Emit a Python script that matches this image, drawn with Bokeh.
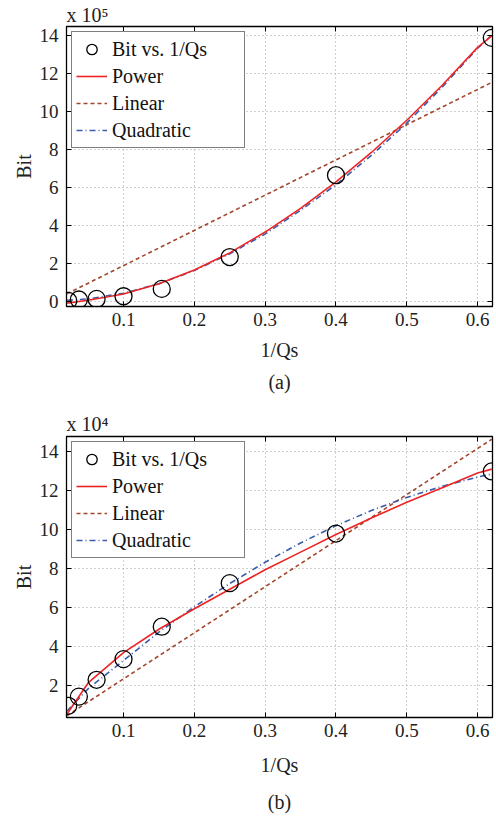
from bokeh.plotting import figure
from bokeh.layouts import column
from bokeh.models import (Range1d, LinearAxis, FixedTicker, Legend, LegendItem,
                          Title)
from bokeh.embed import file_html
from bokeh.resources import INLINE

FONT = "Liberation Serif"

# ---------------- data (a): Bit in units of 1e5 ----------------
qs_inv = [0.022, 0.037, 0.062, 0.100, 0.154, 0.250, 0.400, 0.620]
bit_a = [0.02, 0.09, 0.12, 0.26, 0.65, 2.33, 6.65, 13.9]
fit_x = [0.02, 0.05, 0.10, 0.15, 0.20, 0.25, 0.30, 0.35, 0.40, 0.45, 0.50, 0.55, 0.60, 0.62]
power_a = [-0.10, 0.05, 0.38, 0.92, 1.65, 2.55, 3.65, 4.90, 6.30, 7.85, 9.55, 11.40, 13.40, 14.00]
quad_a = [0.05, 0.12, 0.42, 0.92, 1.62, 2.50, 3.55, 4.80, 6.15, 7.70, 9.40, 11.30, 13.35, 14.05]
lin_x = [0.02, 0.62]
linear_a = [0.39, 11.55]

# ---------------- data (b): Bit in units of 1e4 ----------------
bit_b = [0.98, 1.45, 2.31, 3.37, 5.03, 7.26, 9.80, 12.98]
power_b = [0.55, 2.15, 3.70, 4.90, 5.95, 6.95, 7.95, 8.85, 9.75, 10.60, 11.40, 12.15, 12.90, 13.10]
quad_b = [0.70, 1.85, 3.30, 4.75, 6.05, 7.24, 8.33, 9.32, 10.20, 10.98, 11.65, 12.22, 12.69, 12.85]
linear_b = [0.47, 14.63]

x_ticks = [0.1, 0.2, 0.3, 0.4, 0.5, 0.6]
y_ticks_a = [0, 2, 4, 6, 8, 10, 12, 14]
y_ticks_b = [2, 4, 6, 8, 10, 12, 14]

RED = "#ee2424"
BROWN = "#a3472b"
BLUE = "#3b5cab"


def make_panel(bits, power, quad, linear, yr, yticks, scale_text, caption,
               height, top, bottom, xlab_standoff, cap_standoff, title_standoff):
    p = figure(width=496, height=height, output_backend="svg",
               toolbar_location=None, x_range=Range1d(0.0195, 0.621),
               y_range=Range1d(*yr), min_border_left=66, min_border_right=4,
               min_border_top=top, min_border_bottom=bottom)
    p.title.text = scale_text
    p.title.align = "left"
    p.title.text_font = FONT
    p.title.text_font_size = "20px"
    p.title.text_font_style = "normal"
    p.title.text_color = "#222222"
    p.title.standoff = title_standoff
    p.title.offset = 0
    p.background_fill_color = "white"
    p.outline_line_color = "black"
    p.outline_line_width = 1.3

    for ax in (p.xaxis[0], p.yaxis[0]):
        ax.major_tick_in = 5
        ax.major_tick_out = 0
        ax.minor_tick_in = 0
        ax.minor_tick_out = 0
        ax.axis_line_color = "black"
        ax.major_tick_line_color = "black"
        ax.major_label_text_font = FONT
        ax.major_label_text_font_size = "19px"
        ax.major_label_text_color = "#222222"
        ax.axis_label_text_font = FONT
        ax.axis_label_text_font_size = "20px"
        ax.axis_label_text_font_style = "normal"
        ax.axis_label_text_color = "#222222"
    p.xaxis[0].ticker = FixedTicker(ticks=x_ticks)
    p.yaxis[0].ticker = FixedTicker(ticks=yticks)
    p.xaxis[0].axis_label = "1/Qs"
    p.yaxis[0].axis_label = "Bit"
    p.xaxis[0].major_label_standoff = 6
    p.xaxis[0].axis_label_standoff = xlab_standoff
    p.yaxis[0].major_label_standoff = 8
    p.yaxis[0].axis_label_standoff = 2

    # mirrored ticks on top and right (no labels)
    for loc, tk in (("right", yticks), ("above", x_ticks)):
        ax = LinearAxis(ticker=FixedTicker(ticks=tk), major_tick_in=5,
                        major_tick_out=0, minor_tick_in=0, minor_tick_out=0,
                        major_label_overrides={t: "" for t in tk},
                        major_label_standoff=0, axis_line_color="black")
        p.add_layout(ax, loc)

    p.xgrid.ticker = FixedTicker(ticks=x_ticks)
    p.ygrid.ticker = FixedTicker(ticks=yticks)
    for g in (p.xgrid[0], p.ygrid[0]):
        g.grid_line_color = "#a0a0a0"
        g.grid_line_dash = "1 3"
        g.grid_line_width = 1

    r_lin = p.line(lin_x, linear, line_color=BROWN, line_width=1.6,
                   line_dash="4 3")
    r_quad = p.line(fit_x, quad, line_color=BLUE, line_width=1.6,
                    line_dash="6 3 1 3")
    r_pow = p.line(fit_x, power, line_color=RED, line_width=1.6)
    r_pts = p.scatter(qs_inv, bits, marker="circle", size=17,
                      fill_color=None, line_color="black", line_width=1.3)

    legend = Legend(items=[
        LegendItem(label="Bit vs. 1/Qs", renderers=[r_pts]),
        LegendItem(label="Power", renderers=[r_pow]),
        LegendItem(label="Linear", renderers=[r_lin]),
        LegendItem(label="Quadratic", renderers=[r_quad]),
    ], location="top_left")
    legend.margin = 5
    legend.padding = 4
    legend.spacing = 1
    legend.glyph_width = 31
    legend.glyph_height = 26
    legend.label_height = 22
    legend.label_width = 128
    legend.label_standoff = 5
    legend.label_text_font = FONT
    legend.label_text_font_size = "20px"
    legend.label_text_color = "#111111"
    legend.border_line_color = "black"
    legend.border_line_width = 1.3
    legend.background_fill_color = "white"
    legend.background_fill_alpha = 1.0
    p.add_layout(legend, "center")

    p.add_layout(Title(text=caption, align="center", text_font=FONT,
                       text_font_size="20px", text_font_style="normal",
                       text_color="#222222", standoff=cap_standoff), "below")
    return p


pa = make_panel(bit_a, power_a, quad_a, linear_a, (-0.28, 14.5), y_ticks_a,
                "x 10\u2075", "(a)", 400, 24, 94, 10, 10, 2)
pb = make_panel(bit_b, power_b, quad_b, linear_b, (0.38, 14.77), y_ticks_b,
                "x 10\u2074", "(b)", 423, 36, 106, 14, 20, 4)

layout = column(pa, pb, spacing=0)
open("out.html", "w").write(file_html(layout, INLINE))
